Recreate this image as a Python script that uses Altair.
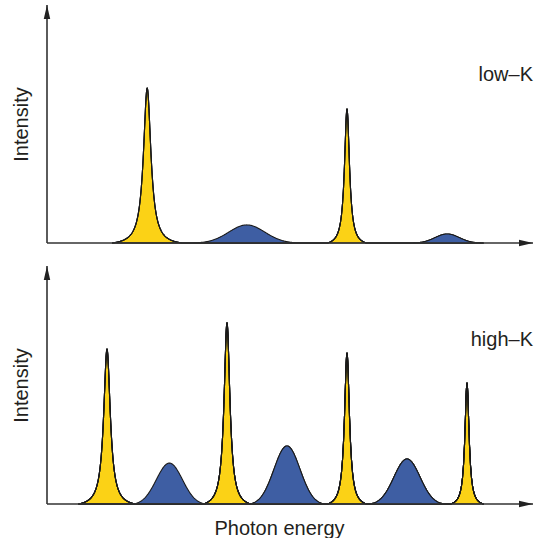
import numpy as np
import pandas as pd
import altair as alt

# ---- data (arbitrary units) ----
X_MAX = 8.1          # end of the photon-energy axis (arrow tip)
Y_MAX = 1.0          # end of the intensity axis (arrow tip)

# low-K spectrum
low_yellow_center = [1.67, 5.0]
low_yellow_height = [0.651, 0.563]
low_yellow_fwhm = [0.15, 0.10]
low_yellow_extent = [0.58, 0.32]

low_blue_center = [3.33, 6.67]
low_blue_height = [0.076, 0.038]
low_blue_sigma = [0.30, 0.20]
low_blue_extent = [0.92, 0.60]

# high-K spectrum
high_yellow_center = [1.0, 3.0, 5.0, 7.0]
high_yellow_height = [0.651, 0.761, 0.634, 0.508]
high_yellow_fwhm = [0.133, 0.117, 0.10, 0.083]
high_yellow_extent = [0.47, 0.39, 0.32, 0.27]

high_blue_center = [2.04, 4.0, 6.0]
high_blue_height = [0.172, 0.244, 0.189]
high_blue_sigma = [0.217, 0.217, 0.217]
high_blue_extent = [0.60, 0.62, 0.62]

panel_labels = ["low–K", "high–K"]
label_y = [0.68, 0.664]

YELLOW = "#FBD216"
BLUE = "#3E5EA3"
INK = "#231F20"
FONT = "Liberation Sans"


def lorentz_peak(c, h, fwhm, ext, n=241):
    x = np.linspace(c - ext, c + ext, n)
    hw = fwhm / 2
    L = 1 / (1 + ((x - c) / hw) ** 2)
    Le = 1 / (1 + (ext / hw) ** 2)
    return x, h * np.clip((L - Le) / (1 - Le), 0, None)


def gauss_peak(c, h, sigma, ext, n=161):
    x = np.linspace(c - ext, c + ext, n)
    G = np.exp(-0.5 * ((x - c) / sigma) ** 2)
    Ge = np.exp(-0.5 * (ext / sigma) ** 2)
    return x, h * np.clip((G - Ge) / (1 - Ge), 0, None)


def build(yc, yh, yw, ye, bc, bh, bs, be):
    rows = []
    k = 0
    for c, h, w, e in zip(yc, yh, yw, ye):
        x, y = lorentz_peak(c, h, w, e)
        rows.append(pd.DataFrame({"x": x, "y": y, "peak": k, "kind": "yellow"}))
        k += 1
    for c, h, s, e in zip(bc, bh, bs, be):
        x, y = gauss_peak(c, h, s, e)
        rows.append(pd.DataFrame({"x": x, "y": y, "peak": k, "kind": "blue"}))
        k += 1
    return pd.concat(rows, ignore_index=True)


low_df = build(low_yellow_center, low_yellow_height, low_yellow_fwhm, low_yellow_extent,
               low_blue_center, low_blue_height, low_blue_sigma, low_blue_extent)
high_df = build(high_yellow_center, high_yellow_height, high_yellow_fwhm, high_yellow_extent,
                high_blue_center, high_blue_height, high_blue_sigma, high_blue_extent)

W, H = 486, 238

xscale = alt.Scale(domain=[0, X_MAX], nice=False, zero=False)
yscale = alt.Scale(domain=[0, Y_MAX], nice=False, zero=False)

yaxis = alt.Axis(title="Intensity", labels=False, ticks=False, domain=False, grid=False,
                 titlePadding=16, titleFontSize=20, titleFont=FONT, titleFontWeight="normal",
                 titleColor=INK)


def panel(df, label, ly, show_x):
    if show_x:
        xaxis = alt.Axis(title="Photon energy", labels=False, ticks=False, domain=False,
                         grid=False, titlePadding=14, titleFontSize=20, titleFont=FONT,
                         titleFontWeight="normal", titleColor=INK, titleX=232)
        X = alt.X("x:Q", scale=xscale, axis=xaxis)
    else:
        X = alt.X("x:Q", scale=xscale, axis=None)
    Y = alt.Y("y:Q", scale=yscale, axis=yaxis)

    areas = alt.Chart(df).mark_area(stroke="#1A1A1A", strokeWidth=1.1, strokeJoin="round").encode(
        x=X, y=Y,
        color=alt.Color("kind:N", scale=alt.Scale(domain=["yellow", "blue"], range=[YELLOW, BLUE]),
                        legend=None),
        detail="peak:N",
    )
    xline = alt.Chart(pd.DataFrame({"x": [0], "x2": [X_MAX], "y": [0]})).mark_rule(
        color="#333333", strokeWidth=1.6).encode(x=X, x2="x2:Q", y=Y)
    yline = alt.Chart(pd.DataFrame({"x": [0], "y": [0], "y2": [Y_MAX]})).mark_rule(
        color="#333333", strokeWidth=1.6).encode(x=X, y=Y, y2="y2:Q")
    xarrow = alt.Chart(pd.DataFrame({"x": [X_MAX], "y": [0]})).mark_point(
        shape="M0,0L-2,-0.46L-2,0.46Z", filled=True, size=196, color="#222222", opacity=1,
        strokeWidth=0).encode(x=X, y=Y)
    yarrow = alt.Chart(pd.DataFrame({"x": [0], "y": [Y_MAX]})).mark_point(
        shape="M0,0L-0.46,2L0.46,2Z", filled=True, size=196, color="#222222", opacity=1,
        strokeWidth=0).encode(x=X, y=Y)
    text = alt.Chart(pd.DataFrame({"x": [X_MAX], "y": [ly], "t": [label]})).mark_text(
        align="right", baseline="alphabetic", fontSize=20, font=FONT, color=INK).encode(
        x=X, y=Y, text="t:N")
    return alt.layer(areas, xline, yline, xarrow, yarrow, text).properties(width=W, height=H)


top = panel(low_df, panel_labels[0], label_y[0], False)
bottom = panel(high_df, panel_labels[1], label_y[1], True)

chart = alt.vconcat(top, bottom, spacing=18).properties(
    padding={"left": 11, "top": 4, "right": 0, "bottom": 0},
    background="white",
).configure_view(stroke=None)

chart.save("out.html", embed_options={"renderer": "svg", "actions": False})
